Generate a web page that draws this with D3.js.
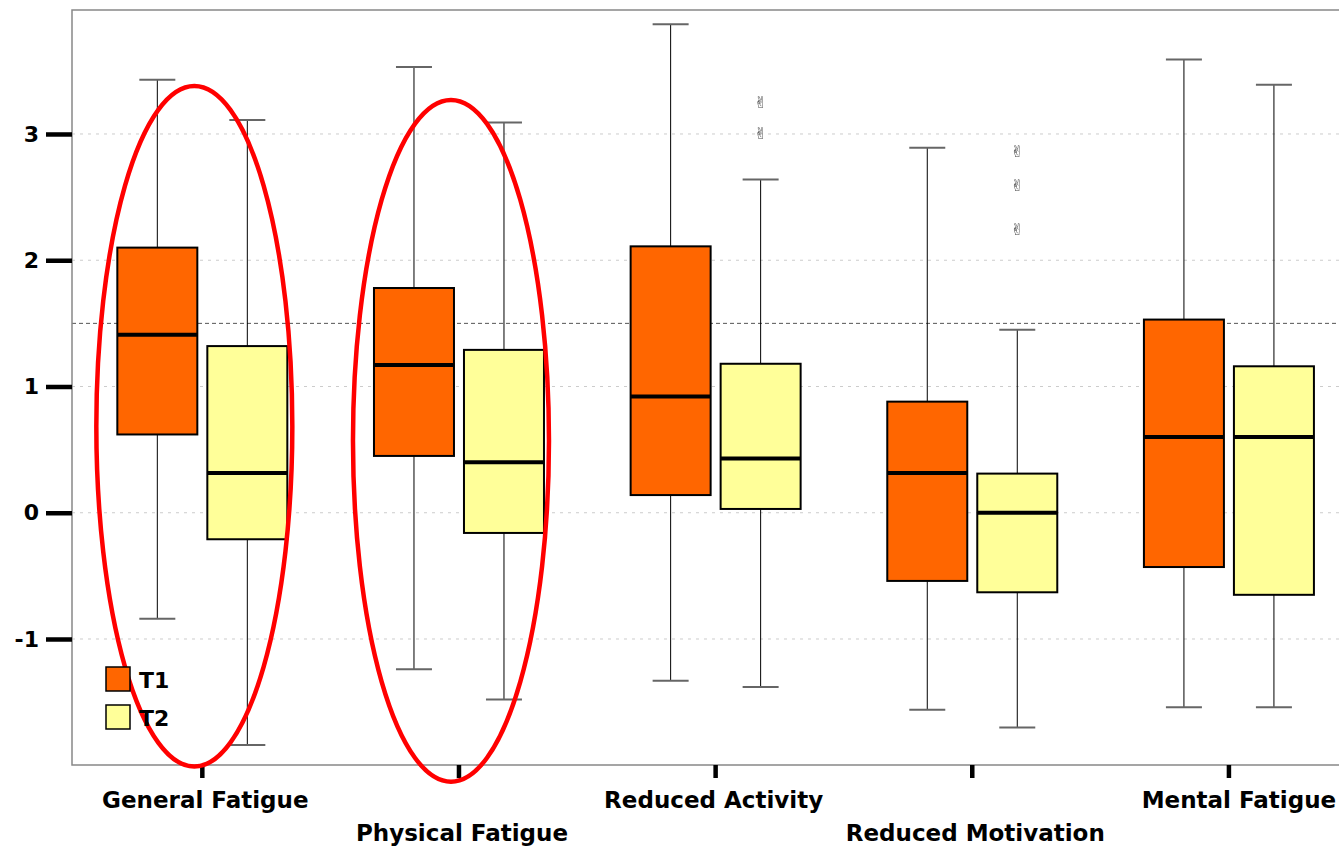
<!DOCTYPE html>
<html>
<head>
<meta charset="utf-8">
<script src="https://cdn.jsdelivr.net/npm/d3@7"></script>
<style>
  html, body { margin: 0; padding: 0; background: #fff; }
  svg { display: block; }
  text { font-family: "DejaVu Sans", Verdana, sans-serif; font-weight: bold; fill: #000; }
  .outliers { filter: grayscale(1) contrast(1.3); }
</style>
</head>
<body>
<svg id="chart" width="1339" height="847"></svg>
<script>
// Fatigue subscales, measured at two time points
const categories = ["General Fatigue", "Physical Fatigue", "Reduced Activity", "Reduced Motivation", "Mental Fatigue"];
const groups = ["T1", "T2"];
const groupColors = ["#ff6600", "#ffff99"];

// five-number summaries per subscale: [lower whisker, Q1, median, Q3, upper whisker]
const summaryT1 = [
  [-0.84, 0.62, 1.41, 2.10, 3.43],
  [-1.24, 0.45, 1.17, 1.78, 3.53],
  [-1.33, 0.14, 0.92, 2.11, 3.87],
  [-1.56, -0.54, 0.315, 0.88, 2.89],
  [-1.54, -0.43, 0.60, 1.53, 3.59]
];
const summaryT2 = [
  [-1.84, -0.21, 0.315, 1.32, 3.11],
  [-1.48, -0.16, 0.40, 1.29, 3.09],
  [-1.38, 0.03, 0.43, 1.18, 2.64],
  [-1.70, -0.63, 0.00, 0.31, 1.45],
  [-1.54, -0.65, 0.60, 1.16, 3.39]
];
// outlying values (subscale index, group index, value)
const outliers = [
  [2, 1, 3.25], [2, 1, 3.0],
  [3, 1, 2.86], [3, 1, 2.59], [3, 1, 2.24]
];
const yTicks = [-1, 0, 1, 2, 3];
const cutoff = 1.5;
// highlighted subscales: [subscale index, top value, bottom value]
const highlights = [[0, 3.38, -2.01], [1, 3.27, -2.13]];

const svg = d3.select("#chart");
const plotLeft = 72, plotTop = 10, plotBottom = 765, plotRight = 1339;

const x = d3.scaleBand().domain(categories).range([74, 74 + 5 * 256.65]).padding(0);
const xg = d3.scaleBand().domain(groups).range([-85, 85]).paddingInner(1 / 9).paddingOuter(0);
const y = d3.scaleLinear().domain([-1.998, 3.982]).range([plotBottom, plotTop]);

// grid lines
svg.append("g").selectAll("line").data(yTicks).join("line")
  .attr("x1", plotLeft).attr("x2", plotRight)
  .attr("y1", d => y(d)).attr("y2", d => y(d))
  .attr("stroke", "#cccccc").attr("stroke-width", 1).attr("stroke-dasharray", "3,5");

// cutoff line
svg.append("line")
  .attr("x1", plotLeft).attr("x2", plotRight)
  .attr("y1", y(cutoff)).attr("y2", y(cutoff))
  .attr("stroke", "#555").attr("stroke-width", 1).attr("stroke-dasharray", "4,3");

// frame
svg.append("path")
  .attr("d", `M${plotRight},${plotTop}H${plotLeft}V${plotBottom}H${plotRight}`)
  .attr("fill", "none").attr("stroke", "#888").attr("stroke-width", 1.5);

// y axis
const yAxis = d3.axisLeft(y).tickValues(yTicks).tickSize(26).tickPadding(7).tickFormat(d => String(d));
const ya = svg.append("g").attr("transform", `translate(${plotLeft},0)`).call(yAxis);
ya.select(".domain").remove();
ya.selectAll(".tick line").attr("stroke", "#000").attr("stroke-width", 4.5);
ya.selectAll(".tick text").style("font-size", "22px").attr("fill", "#000").attr("font-weight", "bold");

// x axis, labels staggered on two rows
const labelShift = [3, 3, -2, 3, 10];
const xAxis = d3.axisBottom(x).tickSize(13).tickPadding(0);
const xa = svg.append("g").attr("transform", `translate(0,${plotBottom})`).call(xAxis);
xa.select(".domain").remove();
xa.selectAll(".tick line").attr("stroke", "#000").attr("stroke-width", 4.5);
xa.selectAll(".tick text")
  .style("font-size", "23px").attr("fill", "#000").attr("font-weight", "bold")
  .attr("dy", 0).attr("dx", (d, i) => labelShift[i])
  .attr("y", (d, i) => i % 2 === 0 ? 43 : 76);

// boxes
const boxes = [];
categories.forEach((c, i) => {
  [summaryT1, summaryT2].forEach((s, g) => {
    boxes.push({ cat: c, g, s: s[i] });
  });
});
const boxW = xg.bandwidth();
const capW = 36;
const bx = d => x(d.cat) + x.bandwidth() / 2 + xg(groups[d.g]);
const bg = svg.append("g");
const b = bg.selectAll("g").data(boxes).join("g");

b.append("line")
  .attr("x1", d => bx(d) + boxW / 2).attr("x2", d => bx(d) + boxW / 2)
  .attr("y1", d => y(d.s[4])).attr("y2", d => y(d.s[0]))
  .attr("stroke", "#000").attr("stroke-width", 1);
b.append("line")
  .attr("x1", d => bx(d) + boxW / 2 - capW / 2).attr("x2", d => bx(d) + boxW / 2 + capW / 2)
  .attr("y1", d => y(d.s[4])).attr("y2", d => y(d.s[4]))
  .attr("stroke", "#666").attr("stroke-width", 2);
b.append("line")
  .attr("x1", d => bx(d) + boxW / 2 - capW / 2).attr("x2", d => bx(d) + boxW / 2 + capW / 2)
  .attr("y1", d => y(d.s[0])).attr("y2", d => y(d.s[0]))
  .attr("stroke", "#666").attr("stroke-width", 2);
b.append("rect")
  .attr("x", d => bx(d)).attr("width", boxW)
  .attr("y", d => y(d.s[3])).attr("height", d => y(d.s[1]) - y(d.s[3]))
  .attr("fill", d => groupColors[d.g]).attr("stroke", "#000").attr("stroke-width", 2);
b.append("line")
  .attr("x1", d => bx(d)).attr("x2", d => bx(d) + boxW)
  .attr("y1", d => y(d.s[2])).attr("y2", d => y(d.s[2]))
  .attr("stroke", "#000").attr("stroke-width", 4);

// outlier markers (text-style glyph)
svg.append("g").attr("class", "outliers").selectAll("text").data(outliers).join("text")
  .attr("x", d => x(categories[d[0]]) + x.bandwidth() / 2 + xg(groups[d[1]]) + boxW / 2)
  .attr("y", d => y(d[2]))
  .attr("text-anchor", "middle").attr("dominant-baseline", "central")
  .style("font-family", "'DejaVu Sans'")
  .style("font-size", "16px").style("font-weight", "normal").style("fill", "#555")
  .text("\u270C\uFE0E");

// highlight ellipses
svg.append("g").selectAll("ellipse").data(highlights).join("ellipse")
  .attr("cx", d => x(categories[d[0]]) + x.bandwidth() / 2 - 8)
  .attr("cy", d => (y(d[1]) + y(d[2])) / 2)
  .attr("rx", 98)
  .attr("ry", d => (y(d[2]) - y(d[1])) / 2)
  .attr("fill", "none").attr("stroke", "#ff0000").attr("stroke-width", 4.5);

// legend
const lg = svg.append("g").attr("transform", "translate(106,667)");
const li = lg.selectAll("g").data(groups).join("g")
  .attr("transform", (d, i) => `translate(0,${i * 38})`);
li.append("rect").attr("width", 24).attr("height", 24)
  .attr("fill", (d, i) => groupColors[i]).attr("stroke", "#000").attr("stroke-width", 1.5);
li.append("text").attr("x", 33).attr("y", 21).style("font-size", "22px").text(d => d);
</script>
</body>
</html>
